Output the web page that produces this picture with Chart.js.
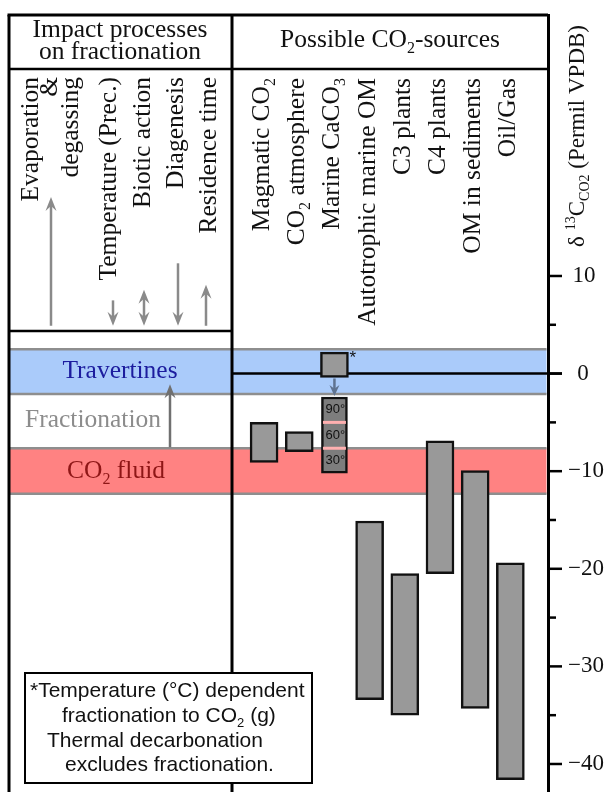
<!DOCTYPE html>
<html>
<head>
<meta charset="utf-8">
<script src="https://cdn.jsdelivr.net/npm/chart.js@4.4.1/dist/chart.umd.min.js"></script>
<style>
  html, body { margin: 0; padding: 0; background: #fff; }
</style>
</head>
<body>
<canvas id="chart" width="608" height="792"></canvas>
<script>
// d13C ranges (permil VPDB) of the possible CO2 sources
const sources = ['Magmatic CO_{2}', 'CO_{2} atmosphere', 'Marine CaCO_{3}', 'Autotrophic marine OM', 'C3 plants', 'C4 plants', 'OM in sediments', 'Oil/Gas'];
const sourceHigh = [-5.0, -5.95, 2.2, -15.1, -20.5, -6.9, -9.95, -19.4];
const sourceLow = [-9.1, -8.0, -0.4, -33.4, -35.0, -20.5, -34.3, -41.6];

// bands
const travertineBand = [2.5, -2.1];
const fluidBand = [-7.65, -12.3];

// temperature dependent fractionation of marine CaCO3 to CO2 (g)
const fracRange = [-10.2, -2.4];
const fracBreaks = [-5.0, -7.65];
const fracLabels = ['90°', '60°', '30°'];

// impact processes (arrow tip on the same permil scale)
const processes = [['Evaporation', '&', 'degassing'], ['Temperature (Prec.)'], ['Biotic action'], ['Diagenesis'], ['Residence time']];
const impactTop = [18.1, 7.5, 8.6, 11.3, 9.1];
const impactDir = ['up', 'down', 'both', 'down', 'up'];
const impactBase = 4.9;

const yTicks = [10, 5, 0, -5, -10, -15, -20, -25, -30, -35, -40];

const noteLines = ['*Temperature (°C) dependent', 'fractionation to CO_{2} (g)', 'Thermal decarbonation', 'excludes fractionation.'];

const SERIF = "'Liberation Serif', 'DejaVu Serif', serif";
const SANS = "'Liberation Sans', Arial, sans-serif";
const FS = 25.5;

function parts(str) {
    const out = [];
    const re = /([_^])\{([^}]*)\}/g;
    let last = 0, m;
    while ((m = re.exec(str))) {
        if (m.index > last) out.push([str.slice(last, m.index), 0]);
        out.push([m[2], m[1] === '_' ? 1 : 2]);
        last = re.lastIndex;
    }
    if (last < str.length) out.push([str.slice(last), 0]);
    return out;
}

function rich(ctx, str, x, y, align, size, family) {
    const ps = parts(str);
    const fontOf = mode => (mode ? Math.round(size * 0.62) : size) + 'px ' + family;
    let total = 0;
    ps.forEach(p => { ctx.font = fontOf(p[1]); p.w = ctx.measureText(p[0]).width; total += p.w; });
    let cx = align === 'center' ? x - total / 2 : align === 'right' ? x - total : x;
    ctx.textAlign = 'left';
    ctx.textBaseline = 'alphabetic';
    ps.forEach(p => {
        ctx.font = fontOf(p[1]);
        const dy = p[1] === 1 ? size * 0.22 : p[1] === 2 ? -size * 0.38 : 0;
        ctx.fillText(p[0], cx, y + dy);
        cx += p.w;
    });
}

// rotated text reading bottom to top, ending at topY, baseline at x
function vrich(ctx, str, x, topY, size, family) {
    ctx.save();
    ctx.translate(x, topY);
    ctx.rotate(-Math.PI / 2);
    rich(ctx, str, 0, 0, 'right', size, family);
    ctx.restore();
}

function arrowHead(ctx, x, tip, dir, len, w) {
    ctx.beginPath();
    ctx.moveTo(x, tip);
    ctx.lineTo(x - w / 2, tip - dir * len);
    ctx.lineTo(x, tip - dir * len * 0.65);
    ctx.lineTo(x + w / 2, tip - dir * len);
    ctx.closePath();
    ctx.fill();
}

function arrow(ctx, x, from, to, color, lw, len, w, both) {
    const dir = Math.sign(to - from);
    ctx.strokeStyle = color;
    ctx.fillStyle = color;
    ctx.lineWidth = lw;
    ctx.beginPath();
    ctx.moveTo(x, both ? from + dir * len * 0.6 : from);
    ctx.lineTo(x, to - dir * len * 0.6);
    ctx.stroke();
    arrowHead(ctx, x, to, dir, len, w);
    if (both) arrowHead(ctx, x, from, -dir, len, w);
}

function hline(ctx, x0, x1, y, color, lw) {
    ctx.strokeStyle = color; ctx.lineWidth = lw;
    ctx.beginPath(); ctx.moveTo(x0, y); ctx.lineTo(x1, y); ctx.stroke();
}
function vline(ctx, x, y0, y1, color, lw) {
    ctx.strokeStyle = color; ctx.lineWidth = lw;
    ctx.beginPath(); ctx.moveTo(x, y0); ctx.lineTo(x, y1); ctx.stroke();
}

const overlay = {
    id: 'overlay',
    beforeDatasetsDraw(chart) {
        const {ctx, chartArea: a, scales: {y}} = chart;
        const split = 232;
        ctx.save();
        // bands
        [[travertineBand, '#aacbfa'], [fluidBand, '#ff8282']].forEach(([b, c]) => {
            const t = y.getPixelForValue(b[0]), bt = y.getPixelForValue(b[1]);
            ctx.fillStyle = c;
            ctx.fillRect(a.left, t, a.right - 1.5 - a.left, bt - t);
            hline(ctx, a.left, a.right - 1.5, t, '#8e8e8e', 2.5);
            hline(ctx, a.left, a.right - 1.5, bt, '#8e8e8e', 2.5);
        });
        // zero line
        hline(ctx, split, a.right + 14, y.getPixelForValue(0), '#000', 2.5);
        // frame
        hline(ctx, a.left - 1.5, a.right, a.top, '#000', 3);
        hline(ctx, a.left, a.right, a.top + 54, '#000', 2.5);
        hline(ctx, a.left, split, 331, '#000', 2.5);
        vline(ctx, a.left, a.top, a.bottom, '#000', 3);
        vline(ctx, split, a.top, a.bottom, '#000', 3);
        ctx.restore();
    },
    afterDatasetsDraw(chart) {
        const {ctx, chartArea: a, scales: {x, y}} = chart;
        ctx.save();
        // y ticks
        yTicks.forEach(v => {
            const py = y.getPixelForValue(v);
            hline(ctx, a.right, a.right + (v % 10 === 0 ? 14 : 8), py, '#000', 2.5);
        });

        // header
        ctx.fillStyle = '#111';
        rich(ctx, 'Impact processes', 120, 37, 'center', FS, SERIF);
        rich(ctx, 'on fractionation', 120, 59, 'center', FS, SERIF);
        rich(ctx, 'Possible CO_{2}-sources', 390, 47, 'center', FS, SERIF);

        // source labels
        sources.forEach((s, i) => vrich(ctx, s, x.getPixelForValue(i) + 5, 78, FS, SERIF));

        // axis title
        vrich(ctx, 'δ ^{13}C_{CO2} (Permil VPDB)', 584, 25, 23, SERIF);

        // impact processes
        const procX = [51, 113, 144, 178, 206];
        const procBase = [[38, 57, 78], [116], [150], [183], [216]];
        processes.forEach((lines, i) => {
            ctx.fillStyle = '#111';
            lines.forEach((t, k) => vrich(ctx, t, procBase[i][k], 77, FS, SERIF));
            const b = y.getPixelForValue(impactBase), t = y.getPixelForValue(impactTop[i]);
            if (impactDir[i] === 'up') arrow(ctx, procX[i], b, t, '#8a8a8a', 2.5, 14, 11, false);
            else if (impactDir[i] === 'down') arrow(ctx, procX[i], t, b, '#8a8a8a', 2.5, 14, 11, false);
            else arrow(ctx, procX[i], t, b, '#8a8a8a', 2.5, 14, 11, true);
        });

        // band labels
        ctx.fillStyle = '#1c1c9e';
        rich(ctx, 'Travertines', 120, 378, 'center', FS, SERIF);
        ctx.fillStyle = '#8c8c8c';
        rich(ctx, 'Fractionation', 93, 427, 'center', FS, SERIF);
        ctx.fillStyle = '#8e1616';
        rich(ctx, 'CO_{2} fluid', 116, 478, 'center', FS, SERIF);
        arrow(ctx, 170, y.getPixelForValue(fluidBand[0]) - 1, y.getPixelForValue(travertineBand[1] + 1.0), '#707070', 2.5, 14, 11, false);

        // fractionation box details
        const mi = 2;
        const mx = x.getPixelForValue(mi);
        fracBreaks.forEach(v => hline(ctx, mx - 11.5, mx + 11.5, y.getPixelForValue(v), '#ffb0b0', 3));
        const edges = [fracRange[1], ...fracBreaks, fracRange[0]];
        ctx.fillStyle = '#111';
        fracLabels.forEach((t, k) => {
            const py = y.getPixelForValue((edges[k] + edges[k + 1]) / 2);
            ctx.font = '13px ' + SANS;
            ctx.textAlign = 'center';
            ctx.textBaseline = 'middle';
            ctx.fillText(t, mx + 1, py);
        });
        arrow(ctx, mx, y.getPixelForValue(sourceLow[mi]) + 1, y.getPixelForValue(fracRange[1]) - 1, '#5f7390', 2.5, 11, 10, false);
        ctx.fillStyle = '#111';
        ctx.font = '17px ' + SANS;
        ctx.textAlign = 'left';
        ctx.textBaseline = 'alphabetic';
        ctx.fillText('*', mx + 15, y.getPixelForValue(sourceHigh[mi]) + 11);

        // note box
        ctx.fillStyle = '#fff';
        ctx.fillRect(25, 673, 287, 110);
        ctx.strokeStyle = '#000';
        ctx.lineWidth = 2;
        ctx.strokeRect(25, 673, 287, 110);
        ctx.fillStyle = '#111';
        const noteX = [30, 62, 47, 65];
        const noteY = [697, 722, 747, 771];
        noteLines.forEach((t, k) => rich(ctx, t, noteX[k], noteY[k], 'left', 21, SANS));
        ctx.restore();
    }
};

new Chart(document.getElementById('chart'), {
    type: 'bar',
    data: {
        datasets: [
            {
                data: sources.map((s, i) => ({x: i, y: [sourceLow[i], sourceHigh[i]]})),
                backgroundColor: '#999999',
                borderColor: '#111',
                borderWidth: 2.5,
                borderSkipped: false,
                barThickness: 28,
                grouped: false
            },
            {
                data: [{x: 2, y: fracRange}],
                backgroundColor: '#7d7d7d',
                borderColor: '#111',
                borderWidth: 2.5,
                borderSkipped: false,
                barThickness: 26,
                grouped: false
            }
        ]
    },
    options: {
        responsive: false,
        animation: false,
        layout: {padding: {left: 9, top: 15, right: 0, bottom: 0}, autoPadding: false},
        plugins: {legend: {display: false}, tooltip: {enabled: false}},
        scales: {
            x: {type: 'linear', min: -7.25, max: 8.07, display: false, offset: false},
            y: {
                position: 'right',
                min: -42.87,
                max: 36.74,
                afterBuildTicks: s => { s.ticks = yTicks.map(v => ({value: v})); },
                afterFit: s => { s.width = 60; s.paddingTop = 0; s.paddingBottom = 0; },
                ticks: {
                    autoSkip: false,
                    padding: 6,
                    color: '#111',
                    font: {family: SERIF, size: 23},
                    callback: v => v % 10 !== 0 ? null : v < 0 ? '\u2212' + (-v) : v === 0 ? '\u2009\u2009' + v : '\u2009' + v
                },
                grid: {drawOnChartArea: false, tickLength: 14, tickColor: 'rgba(0,0,0,0)'},
                border: {color: '#000', width: 3}
            }
        }
    },
    plugins: [overlay]
});
</script>
</body>
</html>
